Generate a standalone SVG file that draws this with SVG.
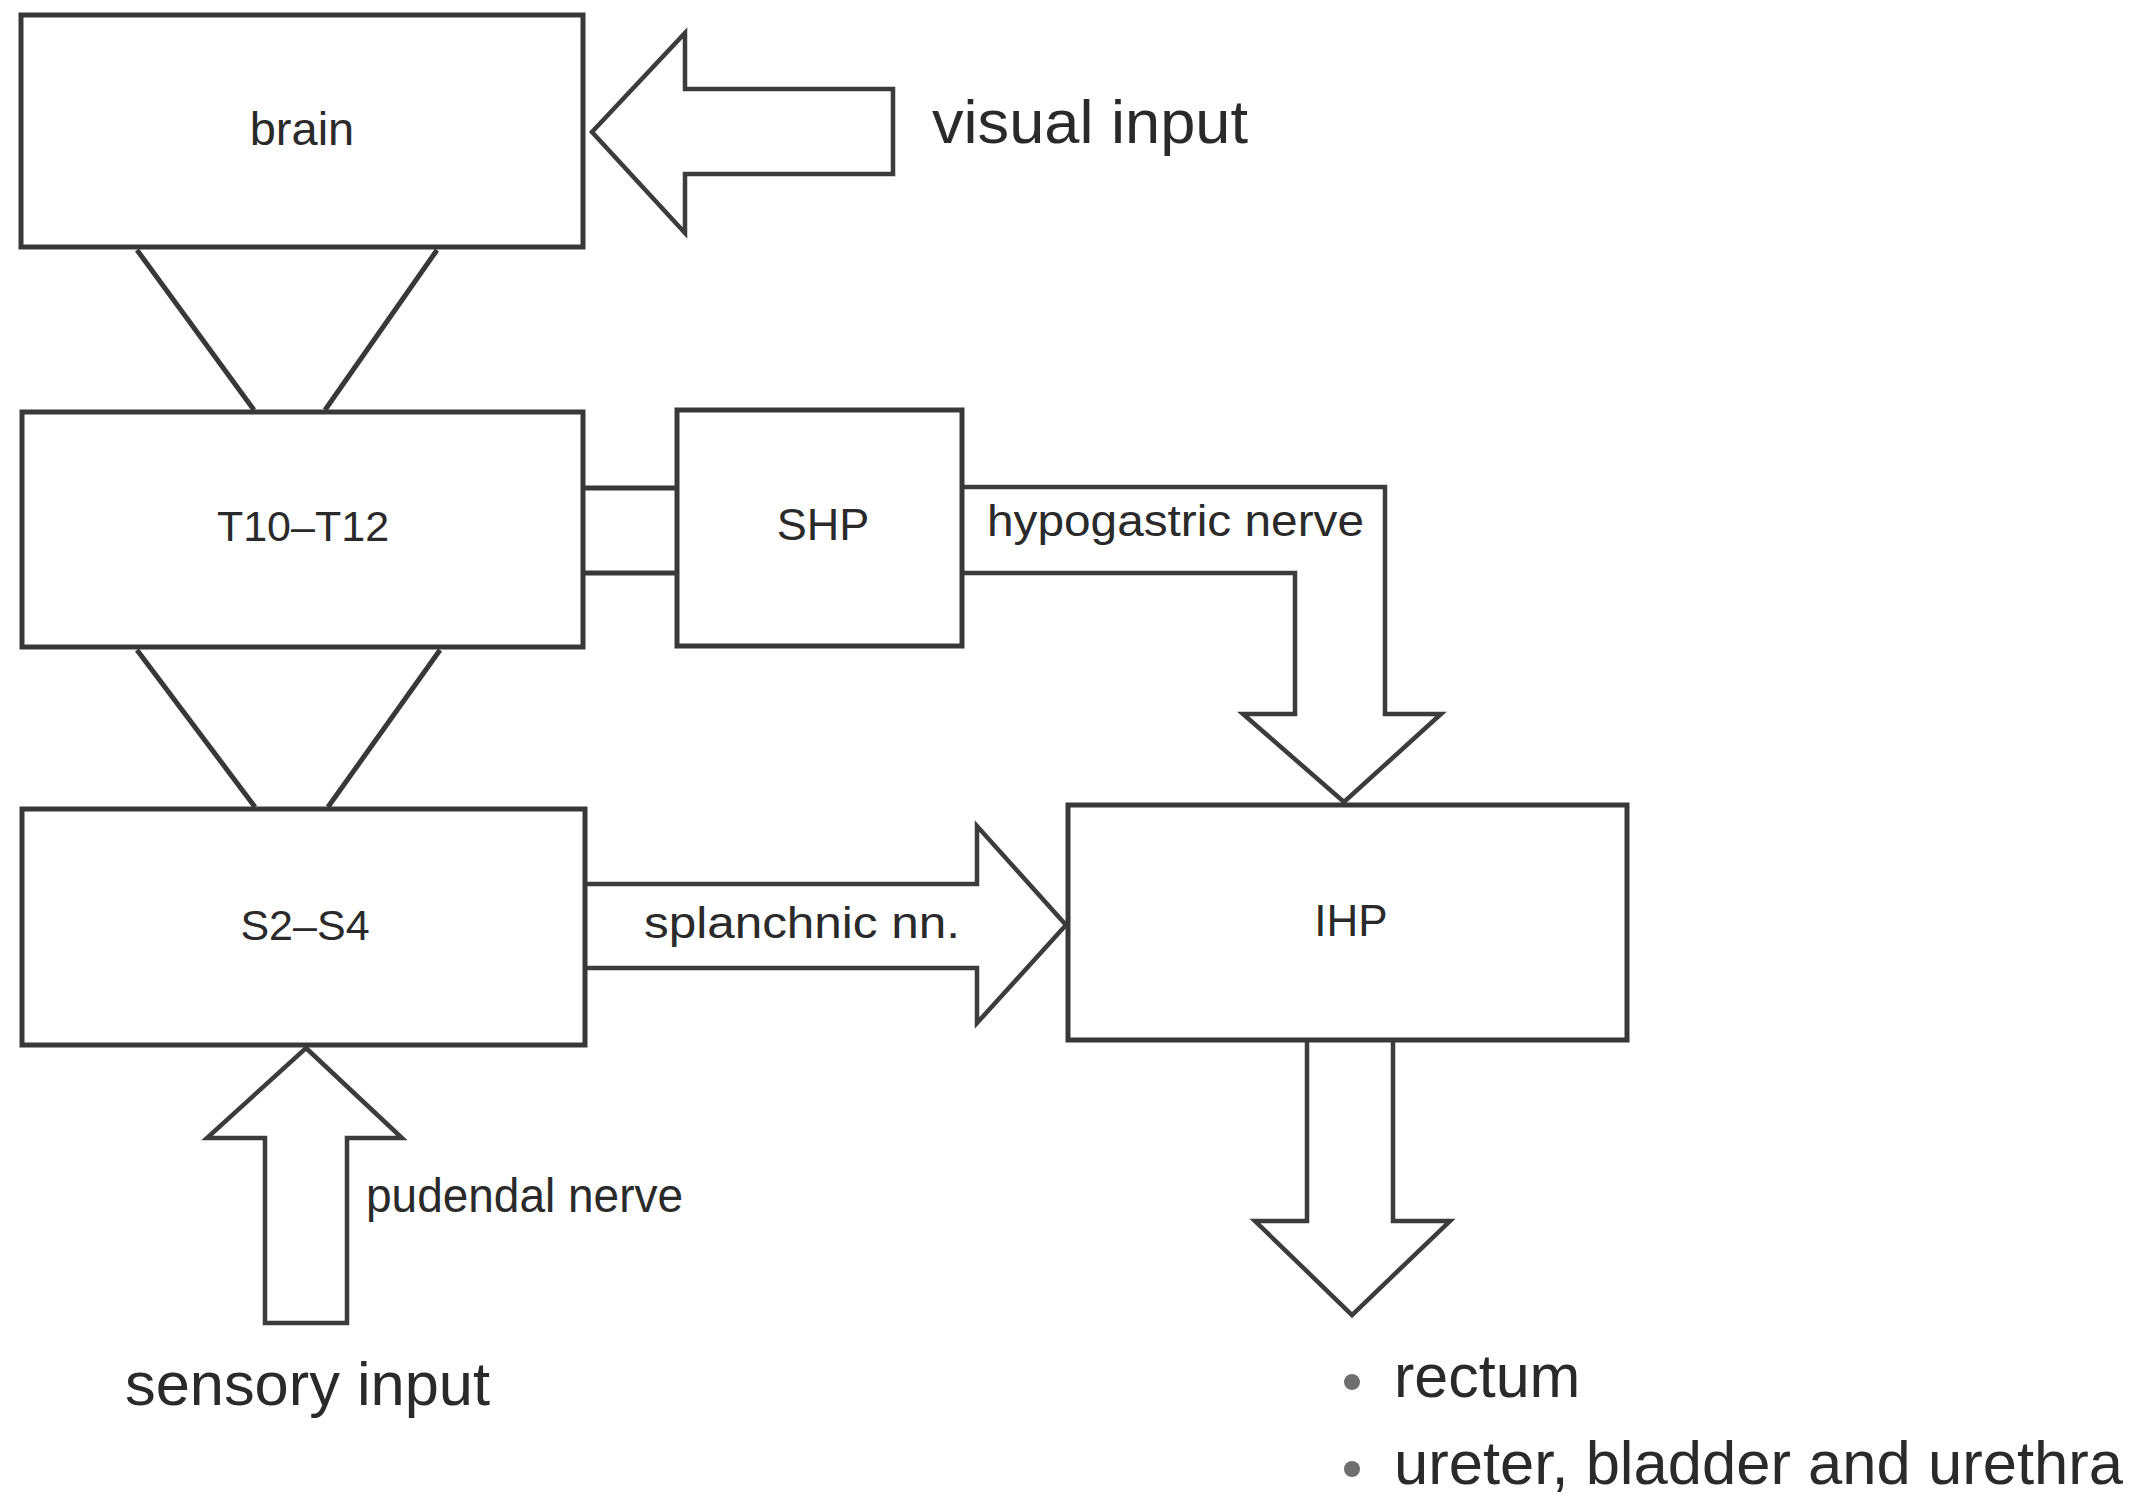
<svg xmlns="http://www.w3.org/2000/svg" width="2148" height="1496" viewBox="0 0 2148 1496">
<style>
.box{fill:#fff;stroke:#383838;stroke-width:5}
.ln{fill:none;stroke:#383838;stroke-width:5;stroke-linejoin:miter}
.arr{fill:#fff;stroke:#3c3c3c;stroke-width:4.5;stroke-linejoin:miter}
.t{font-family:"Liberation Sans",Arial,sans-serif;fill:#2a2a2a}
.c{text-anchor:middle}
.bul{fill:#6e6e6e}
</style>
<rect width="2148" height="1496" fill="#fff"/>
<g id="connectors">
<line class="ln" x1="137" y1="250" x2="254" y2="410"/>
<line class="ln" x1="437" y1="250" x2="325" y2="410"/>
<line class="ln" x1="137" y1="650" x2="255" y2="807"/>
<line class="ln" x1="440" y1="650" x2="328" y2="807"/>
<line class="ln" x1="583" y1="488" x2="677" y2="488"/>
<line class="ln" x1="583" y1="573" x2="677" y2="573"/>
<polygon class="arr" points="592,132 685,33 685,89 893,89 893,174 685,174 685,233"/>
<path class="arr" d="M962,487 L1385,487 L1385,714 L1441,714 L1344,802 L1243,714 L1295,714 L1295,573 L962,573"/>
<path class="arr" d="M585,884 L977,884 L977,826 L1066,925 L977,1023 L977,968 L585,968"/>
<polygon class="arr" points="306,1048 402,1138 347,1138 347,1323 265,1323 265,1138 207,1138"/>
<path class="arr" d="M1307,1041 L1307,1221 L1255,1221 L1352,1315 L1450,1221 L1393,1221 L1393,1041"/>
<text class="t" x="932" y="143" font-size="62" textLength="316" lengthAdjust="spacingAndGlyphs">visual input</text>
<text class="t" x="987" y="536" font-size="45" textLength="377" lengthAdjust="spacingAndGlyphs">hypogastric nerve</text>
<text class="t" x="644" y="938" font-size="45" textLength="316" lengthAdjust="spacingAndGlyphs">splanchnic nn.</text>
<text class="t" x="366" y="1212" font-size="48" textLength="317" lengthAdjust="spacingAndGlyphs">pudendal nerve</text>
<text class="t" x="125" y="1405" font-size="61" textLength="365" lengthAdjust="spacingAndGlyphs">sensory input</text>
</g>
<g id="brain">
<rect class="box" x="21" y="15" width="562" height="232"/>
<text class="t c" x="302" y="145" font-size="47">brain</text>
</g>
<g id="t10-t12">
<rect class="box" x="22" y="412" width="561" height="235"/>
<text class="t c" x="303" y="541" font-size="43">T10–T12</text>
</g>
<g id="shp">
<rect class="box" x="677" y="410" width="285" height="236"/>
<text class="t c" x="823" y="540" font-size="45">SHP</text>
</g>
<g id="s2-s4">
<rect class="box" x="22" y="809" width="563" height="236"/>
<text class="t c" x="305" y="940" font-size="43">S2–S4</text>
</g>
<g id="ihp">
<rect class="box" x="1068" y="805" width="559" height="235"/>
<text class="t c" x="1351" y="936" font-size="44">IHP</text>
</g>
<g id="targets">
<circle class="bul" cx="1352" cy="1382" r="8"/>
<text class="t" x="1394" y="1397" font-size="61">rectum</text>
<circle class="bul" cx="1352" cy="1469" r="8"/>
<text class="t" x="1394" y="1484" font-size="61" textLength="729" lengthAdjust="spacingAndGlyphs">ureter, bladder and urethra</text>
</g>
</svg>
